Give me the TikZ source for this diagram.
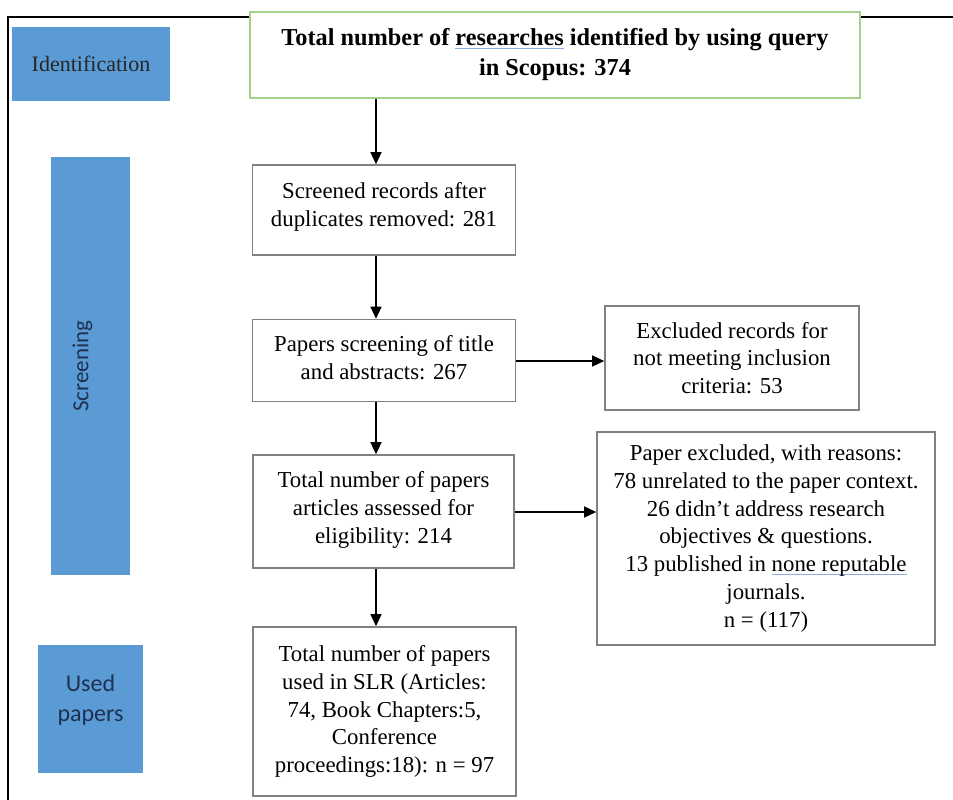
\documentclass[tikz,border=0pt]{standalone}
\usepackage{fontspec}
\setmainfont{Liberation Serif}
\newfontfamily\phasefont{Carlito}
\usetikzlibrary{arrows.meta}

\definecolor{phaseblue}{HTML}{5B9BD5}
\definecolor{phasetext}{HTML}{1F3152}
\definecolor{boxgray}{HTML}{808080}
\definecolor{idgreen}{HTML}{A9D18E}
\definecolor{spellblue}{HTML}{8AAAE0}

% light blue proofing underline under a word group
\newsavebox\proofbox
\newcommand\proofmark[1]{\sbox\proofbox{#1}\rlap{\textcolor{spellblue}{\rule[-0.3ex]{\wd\proofbox}{1.3pt}}}\usebox\proofbox}

\begin{document}
\begin{tikzpicture}[x=1pt,y=-1pt,
  phase/.style={fill=phaseblue, draw=none, inner sep=0pt},
  phaselabel/.style={text=phasetext, align=center, inner sep=0pt},
  stepbox/.style={draw=boxgray, line width=1.6pt, fill=white, align=center, inner sep=0pt,
                  font=\fontsize{22.8}{27.8}\selectfont},
  arr/.style={-{Triangle[length=12pt,width=11pt]}, line width=1.3pt}]
\useasboundingbox (0,0) rectangle (953,800);

% outer frame (top and left edges)
\draw[line width=2.5pt] (8,800) -- (8,17) -- (953,17);

% phase bars and their labels
\node[phase, minimum width=158, minimum height=74] (ident) at (91,64) {};
\node[phaselabel, text=black!85, font=\fontsize{22}{26}\selectfont] at (ident.center) {Identification};
\node[phase, minimum width=79, minimum height=418] (screen) at (90.5,366) {};
\node[phaselabel, rotate=90, font=\phasefont\fontsize{23}{26}\selectfont]
  at ([xshift=-8pt]screen.center) {Screening};
\node[phase, minimum width=105, minimum height=128] (used) at (90.5,709) {};
\node[phaselabel, font=\phasefont\fontsize{24}{30}\selectfont]
  at ([yshift=9pt]used.center) {Used\\papers};

% flow boxes
\node[stepbox, draw=idgreen, minimum width=610, minimum height=86,
      font=\bfseries\fontsize{24.3}{30}\selectfont] (scopus) at (555,55)
  {Total number of \proofmark{researches} identified by using query\\in Scopus: 374};
\node[stepbox, minimum width=263, minimum height=90] (a) at (384,210)
  {Screened records after\\duplicates removed: 281\\[-16pt]};
\node[stepbox, minimum width=263, minimum height=82] (b) at (384,360.5)
  {Papers screening of title\\and abstracts: 267\\[-22pt]};
\node[stepbox, minimum width=254, minimum height=104] (c) at (732,358)
  {Excluded records for\\not meeting inclusion\\criteria: 53};
\node[stepbox, minimum width=261, minimum height=113] (d) at (383.5,511.5)
  {Total number of papers\\articles assessed for\\eligibility: 214\\[-20pt]};
\node[stepbox, minimum width=338, minimum height=213] (e) at (766,538.5)
  {Paper excluded, with reasons:\\78 unrelated to the paper context.\\26 didn’t address research\\objectives \& questions.\\13 published in \proofmark{none reputable}\\journals.\\n = (117)};
\node[stepbox, minimum width=263, minimum height=169] (f) at (384.5,711.5)
  {Total number of papers\\used in SLR (Articles:\\74, Book Chapters:5,\\Conference\\proceedings:18): n = 97};

% connectors
\coordinate (colx) at (376,0);
\coordinate (rowb) at (0,361);
\coordinate (rowd) at (0,512);
\draw[arr] (scopus.south -| colx) -- (a.north -| colx);
\draw[arr] (a.south -| colx) -- (b.north -| colx);
\draw[arr] (b.south -| colx) -- (d.north -| colx);
\draw[arr] (d.south -| colx) -- (f.north -| colx);
\draw[arr] (b.east |- rowb) -- (c.west |- rowb);
\draw[arr] (d.east |- rowd) -- (e.west |- rowd);
\end{tikzpicture}
\end{document}
